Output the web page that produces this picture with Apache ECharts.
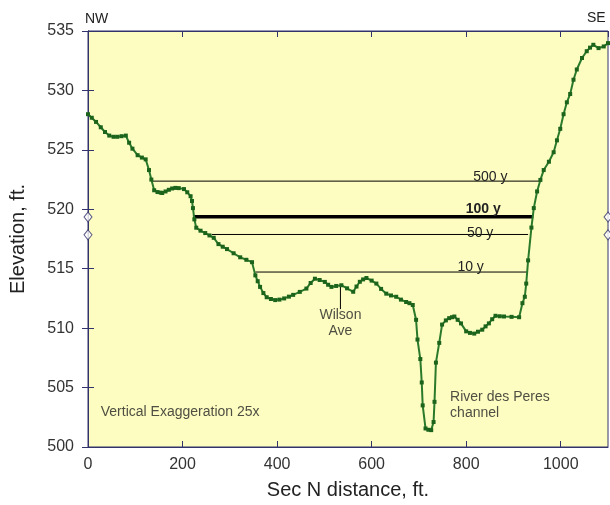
<!DOCTYPE html>
<html>
<head>
<meta charset="utf-8">
<script src="https://cdn.jsdelivr.net/npm/echarts@6/dist/echarts.min.js"></script>
<style>html,body{margin:0;padding:0;background:#fff}#c{width:610px;height:505px}</style>
</head>
<body>
<div id="c"></div>
<script>
// Ground profile (distance ft, elevation ft)
const distance = [0,8,17,27,36,45,54,62,71,80,87,94,105,114,122,129,134,140,147,154,157,164,171,178,185,192,203,210,217,220,222,225,229,238,248,257,266,276,285,294,308,322,335,347,354,359,364,371,378,387,396,405,415,425,434,448,462,471,480,490,501,508,515,525,536,548,561,568,575,582,589,600,610,620,631,641,652,662,673,680,687,694,697,703,706,708,714,720,726,731,733,736,743,749,757,764,770,775,782,789,800,808,817,825,834,841,848,855,862,871,880,896,912,919,924,927,931,938,943,950,957,964,975,985,992,999,1006,1013,1020,1027,1034,1045,1055,1062,1069,1080,1091,1100];
const elevation = [528.0,527.7,527.35,526.9,526.5,526.2,526.1,526.1,526.15,526.2,525.6,525.1,524.55,524.35,524.2,523.3,522.5,521.6,521.45,521.4,521.37,521.5,521.64,521.75,521.8,521.78,521.7,521.43,521.1,520.7,520.1,519.15,518.45,518.2,518.0,517.8,517.6,517.07,516.85,516.65,516.3,515.96,515.75,515.55,514.44,513.95,513.47,512.95,512.6,512.45,512.36,512.4,512.5,512.65,512.8,513.05,513.33,513.8,514.16,514.05,513.89,513.65,513.47,513.55,513.61,513.35,513.06,513.5,513.9,514.1,514.22,514.0,513.75,513.3,512.9,512.75,512.64,512.4,512.2,512.1,511.95,510.7,509.04,507.4,505.43,503.5,501.56,501.45,501.42,502.1,503.8,507.1,508.76,510.3,510.65,510.84,510.92,510.98,510.7,510.4,509.73,509.6,509.54,509.7,509.87,510.15,510.4,510.75,511.04,511.0,510.98,510.95,510.92,512.1,512.64,513.75,515.7,518.46,520.1,521.5,522.47,523.3,524.0,524.8,525.8,526.77,528.0,529.0,529.7,530.9,531.76,532.73,533.3,533.6,533.84,533.56,533.7,533.98];

// Flood levels
const floodNames = ['500 y','100 y','50 y','10 y'];
const floodLevel = [522.37,519.37,517.88,514.72];
const floodStart = [136,222,262,354];
const floodEnd = [957,942,931,930];

const xTicks = [0,200,400,600,800,1000];
const yTicks = [500,505,510,515,520,525,530,535];

// Annotations
const wilsonX = 534, wilsonTop = 513.5, wilsonBottom = 511.6;
const breakLevels = [519.35,517.85];

const navy = '#33336b';
const FONT = 'Liberation Sans, Arial, sans-serif';
const chart = echarts.init(document.getElementById('c'));

const labelShift = {'500 y':[0,3],'100 y':[0,-1],'50 y':[2,6],'10 y':[-7,2]};
const floodSeries = floodNames.map((n,i) => ({
  type:'line', name:n, silent:true, animation:false,
  symbol:'none', z:3,
  lineStyle:{color:'#000', width: n==='100 y'?3.5:1},
  data:[[floodStart[i],floodLevel[i]],[floodEnd[i],floodLevel[i]]],
  markPoint:{
    symbol:'circle', symbolSize:0, silent:true,
    label:{show:true, formatter:n, color:'#222', fontFamily:FONT,
      fontSize:14, fontWeight: n==='100 y'?'bold':'normal',
      position:'top', distance:0,
      offset:[-50 + labelShift[n][0], labelShift[n][1]]},
    data:[{coord:[floodEnd[i],floodLevel[i]]}]
  }
}));

const textStyleBase = {color:'#222', fontFamily:FONT, fontSize:14};

chart.setOption({
  animation:false,
  backgroundColor:'#fff',
  grid:{left:87, right:2, top:31, bottom:53, show:true, backgroundColor:'#fdfdc2', borderColor:navy, borderWidth:1},
  xAxis:[{
    type:'value', min:0, max:1100, interval:200,
    name:'Sec N distance, ft.', nameLocation:'middle', nameGap:33,
    nameTextStyle:{fontSize:20, color:'#222', fontFamily:FONT},
    axisLine:{show:true, lineStyle:{color:navy}},
    axisTick:{show:true, inside:true, length:6, lineStyle:{color:navy}},
    axisLabel:{color:'#333', fontSize:16, margin:10, fontFamily:FONT,
      showMaxLabel:false, formatter:v => xTicks.includes(v) ? String(v) : ''},
    splitLine:{show:false}
  },{
    type:'value', min:0, max:1100, interval:200, position:'top',
    axisLine:{show:true, lineStyle:{color:navy}},
    axisTick:{show:true, inside:true, length:6, lineStyle:{color:navy}},
    axisLabel:{show:false}, splitLine:{show:false}
  }],
  yAxis:[{
    type:'value', min:500, max:535, interval:5,
    name:'Elevation, ft.', nameLocation:'middle', nameGap:60, nameRotate:90,
    nameTextStyle:{fontSize:20, color:'#222', fontFamily:FONT},
    axisLine:{show:true, lineStyle:{color:navy}},
    axisTick:{show:true, inside:true, length:6, lineStyle:{color:navy}},
    axisLabel:{color:'#333', fontSize:16, margin:14, fontFamily:FONT,
      formatter:v => yTicks.includes(v) ? String(v) : ''},
    splitLine:{show:false}
  },{
    type:'value', min:500, max:535, interval:5, position:'right',
    axisLine:{show:true, lineStyle:{color:navy}},
    axisTick:{show:true, inside:true, length:6, lineStyle:{color:navy}},
    axisLabel:{show:false}, splitLine:{show:false}
  }],
  graphic:[
    {type:'text', left:85, top:12, style:{text:'NW', fontSize:14, fill:'#222', fontFamily:FONT}},
    {type:'text', left:587, top:11, style:{text:'SE', fontSize:14, fill:'#222', fontFamily:FONT}}
  ],
  series:[
    ...floodSeries,
    {
      type:'line', name:'Wilson', silent:true, symbol:'none', z:3,
      lineStyle:{color:'#000', width:1},
      data:[[wilsonX,wilsonTop],[wilsonX,wilsonBottom]]
    },
    {
      type:'line', name:'profile', silent:true, z:5,
      symbol:'rect', symbolSize:4, showSymbol:true,
      lineStyle:{color:'#2b7a2b', width:2},
      itemStyle:{color:'#1c641c'},
      data: distance.map((d,i)=>[d,elevation[i]])
    },
    {
      type:'scatter', name:'breaks', silent:true, clip:false, z:10,
      symbol:'diamond', symbolSize:[8,10],
      itemStyle:{color:'#fff', borderColor:navy, borderWidth:1},
      data: breakLevels.flatMap(l => [[0,l],[1100,l]])
    },
    {
      type:'scatter', name:'notes', silent:true, symbolSize:0, z:6,
      data:[
        {value:[wilsonX,510.4], label:{show:true, position:'inside', formatter:'Wilson\nAve', align:'center', lineHeight:16, ...textStyleBase}},
        {value:[766,503.5], label:{show:true, position:'inside', formatter:'River des Peres\nchannel', align:'left', lineHeight:16, ...textStyleBase}},
        {value:[27,502.9], label:{show:true, position:'inside', formatter:'Vertical Exaggeration 25x', align:'left', ...textStyleBase}}
      ]
    }
  ]
});
</script>
</body>
</html>
